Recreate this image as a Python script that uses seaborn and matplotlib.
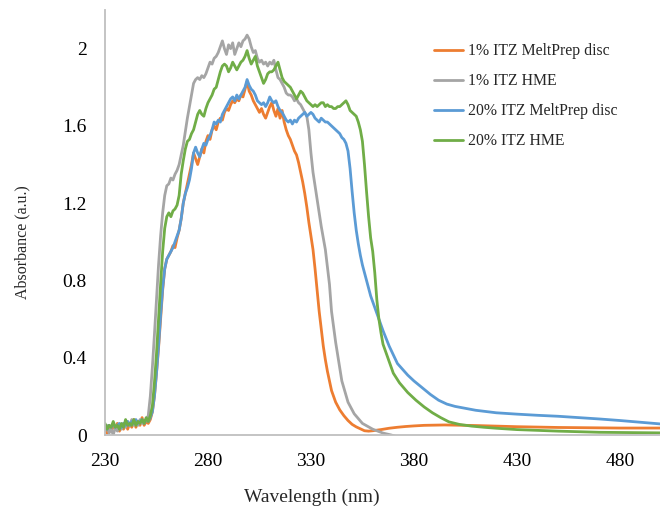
import matplotlib
matplotlib.use("Agg")
import matplotlib.pyplot as plt
import seaborn as sns
import pandas as pd
from matplotlib.ticker import FixedLocator, FuncFormatter
from matplotlib.lines import Line2D

# ---------------- data ----------------
series_names = ["1% ITZ MeltPrep disc", "1% ITZ HME", "20% ITZ MeltPrep disc", "20% ITZ HME"]
series_colors = ["#ED7D31", "#A5A5A5", "#5B9BD5", "#70AD47"]

orange_x = [230, 231, 232, 233, 234, 235, 236, 237, 238, 239, 240, 241, 242, 243, 244, 245, 246, 247, 248, 249,
            250, 251, 252, 253, 254, 255, 256, 257, 258, 259, 260, 261, 262, 263, 264, 265, 266, 267, 268, 269,
            270, 271, 272, 273, 274, 275, 276, 277, 278, 279, 280, 281, 282, 283, 284, 285, 286, 287, 288, 289,
            290, 291, 292, 293, 294, 295, 296, 297, 298, 299, 300, 301, 302, 303, 304, 305, 306, 307, 308, 309,
            310, 311, 312, 313, 314, 315, 316, 317, 318, 319, 320, 321, 322, 323, 324, 325, 326, 327, 328, 329,
            330, 331, 332, 333, 334, 335, 336, 337, 338, 339, 340, 342, 344, 346, 348, 350, 352, 354, 356, 358,
            360, 364, 368, 372, 376, 380, 385, 390, 395, 400, 410, 420, 430, 440, 450, 460, 470, 480, 490, 500]
orange_y = [0.04, 0.01, 0.04, 0.02, 0.05, 0.03, 0.06, 0.02, 0.05, 0.03, 0.07, 0.03, 0.06, 0.04, 0.08, 0.04, 0.07, 0.05, 0.09, 0.05,
            0.07, 0.06, 0.08, 0.12, 0.20, 0.32, 0.45, 0.60, 0.75, 0.86, 0.91, 0.93, 0.95, 0.98, 0.97, 1.02, 1.06, 1.12, 1.20, 1.25,
            1.30, 1.35, 1.40, 1.46, 1.43, 1.40, 1.44, 1.48, 1.46, 1.52, 1.55, 1.53, 1.58, 1.60, 1.58, 1.62, 1.64, 1.63, 1.67, 1.69,
            1.68, 1.71, 1.73, 1.72, 1.74, 1.73, 1.76, 1.75, 1.79, 1.83, 1.78, 1.76, 1.73, 1.71, 1.69, 1.67, 1.69, 1.66, 1.64, 1.67,
            1.70, 1.72, 1.68, 1.65, 1.69, 1.64, 1.68, 1.62, 1.58, 1.55, 1.53, 1.50, 1.47, 1.45, 1.41, 1.36, 1.31, 1.25, 1.18, 1.10,
            1.03, 0.96, 0.86, 0.75, 0.64, 0.55, 0.46, 0.39, 0.33, 0.28, 0.23, 0.17, 0.13, 0.10, 0.075, 0.055, 0.042, 0.032, 0.022, 0.020,
            0.022, 0.028, 0.035, 0.040, 0.044, 0.047, 0.050, 0.051, 0.052, 0.051, 0.049, 0.046, 0.043, 0.041, 0.039, 0.038, 0.037, 0.036, 0.036, 0.036]

gray_x = [230, 231, 232, 233, 234, 235, 236, 237, 238, 239, 240, 241, 242, 243, 244, 245, 246, 247, 248, 249,
          250, 251, 252, 253, 254, 255, 256, 257, 258, 259, 260, 261, 262, 263, 264, 265, 266, 267, 268, 269,
          270, 271, 272, 273, 274, 275, 276, 277, 278, 279, 280, 281, 282, 283, 284, 285, 286, 287, 288, 289,
          290, 291, 292, 293, 294, 295, 296, 297, 298, 299, 300, 301, 302, 303, 304, 305, 306, 307, 308, 309,
          310, 311, 312, 313, 314, 315, 316, 317, 318, 319, 320, 321, 322, 323, 324, 325, 326, 327, 328, 329,
          330, 331, 333, 335, 337, 339, 340, 342, 345, 348, 351, 355, 360, 365, 369, 372]
gray_y = [0.02, 0.05, 0.01, 0.03, 0.00, 0.04, 0.02, 0.05, 0.03, 0.06, 0.04, 0.07, 0.05, 0.08, 0.05, 0.07, 0.05, 0.08, 0.06, 0.07,
          0.08, 0.10, 0.20, 0.35, 0.52, 0.70, 0.88, 1.03, 1.15, 1.24, 1.29, 1.30, 1.33, 1.32, 1.35, 1.37, 1.40, 1.45, 1.50, 1.57,
          1.64, 1.70, 1.76, 1.82, 1.84, 1.85, 1.84, 1.86, 1.85, 1.87, 1.90, 1.93, 1.92, 1.95, 1.96, 1.98, 2.01, 2.04, 2.00, 1.97,
          2.02, 2.00, 2.03, 1.97, 2.00, 2.03, 2.01, 2.04, 2.05, 2.07, 2.05, 2.01, 1.98, 1.99, 1.95, 1.93, 1.94, 1.92, 1.93, 1.91,
          1.93, 1.92, 1.94, 1.89, 1.85, 1.84, 1.82, 1.80, 1.77, 1.76, 1.76, 1.75, 1.73, 1.74, 1.72, 1.71, 1.69, 1.67, 1.65, 1.58,
          1.46, 1.36, 1.22, 1.08, 0.96, 0.78, 0.64, 0.48, 0.28, 0.17, 0.11, 0.06, 0.03, 0.01, 0.0, -0.01]

blue_x = [230, 231, 232, 233, 234, 235, 236, 237, 238, 239, 240, 241, 242, 243, 244, 245, 246, 247, 248, 249,
          250, 251, 252, 253, 254, 255, 256, 257, 258, 259, 260, 261, 262, 263, 264, 265, 266, 267, 268, 269,
          270, 271, 272, 273, 274, 275, 276, 277, 278, 279, 280, 281, 282, 283, 284, 285, 286, 287, 288, 289,
          290, 291, 292, 293, 294, 295, 296, 297, 298, 299, 300, 301, 302, 303, 304, 305, 306, 307, 308, 309,
          310, 311, 312, 313, 314, 315, 316, 317, 318, 319, 320, 321, 322, 323, 324, 325, 326, 327, 328, 329,
          330, 331, 332, 333, 334, 335, 336, 337, 338, 339, 340, 341, 342, 343, 344, 345, 346, 347, 348, 349,
          350, 351, 352, 353, 354, 355, 357, 359, 362, 365, 368, 372, 377, 380, 384, 388, 392, 396, 400, 405,
          410, 420, 430, 440, 450, 460, 470, 480, 490, 500]
blue_y = [0.05, 0.03, 0.05, 0.04, 0.06, 0.04, 0.05, 0.06, 0.04, 0.06, 0.05, 0.07, 0.05, 0.07, 0.06, 0.08, 0.06, 0.07, 0.08, 0.06,
          0.08, 0.07, 0.09, 0.12, 0.20, 0.32, 0.46, 0.62, 0.76, 0.86, 0.91, 0.93, 0.95, 0.97, 1.00, 1.03, 1.06, 1.12, 1.20, 1.25,
          1.28, 1.32, 1.38, 1.46, 1.49, 1.46, 1.44, 1.48, 1.51, 1.50, 1.53, 1.55, 1.58, 1.62, 1.61, 1.63, 1.62, 1.66, 1.68, 1.70,
          1.72, 1.74, 1.75, 1.73, 1.76, 1.74, 1.76, 1.78, 1.80, 1.84, 1.81, 1.79, 1.78, 1.76, 1.73, 1.72, 1.71, 1.72, 1.70, 1.72,
          1.75, 1.73, 1.72, 1.73, 1.70, 1.68, 1.67, 1.65, 1.63, 1.62, 1.63, 1.61, 1.63, 1.62, 1.64, 1.65, 1.66, 1.67, 1.65, 1.66,
          1.67, 1.66, 1.64, 1.63, 1.62, 1.64, 1.63, 1.62, 1.62, 1.61, 1.60, 1.59, 1.58, 1.57, 1.56, 1.54, 1.53, 1.51, 1.47, 1.38,
          1.26, 1.15, 1.06, 0.99, 0.93, 0.88, 0.80, 0.72, 0.63, 0.54, 0.46, 0.37, 0.31, 0.28, 0.245, 0.21, 0.18, 0.16, 0.148, 0.138,
          0.128, 0.115, 0.108, 0.102, 0.097, 0.090, 0.083, 0.075, 0.066, 0.057]

green_x = [230, 231, 232, 233, 234, 235, 236, 237, 238, 239, 240, 241, 242, 243, 244, 245, 246, 247, 248, 249,
           250, 251, 252, 253, 254, 255, 256, 257, 258, 259, 260, 261, 262, 263, 264, 265, 266, 267, 268, 269,
           270, 271, 272, 273, 274, 275, 276, 277, 278, 279, 280, 281, 282, 283, 284, 285, 286, 287, 288, 289,
           290, 291, 292, 293, 294, 295, 296, 297, 298, 299, 300, 301, 302, 303, 304, 305, 306, 307, 308, 309,
           310, 311, 312, 313, 314, 315, 316, 317, 318, 319, 320, 321, 322, 323, 324, 325, 326, 327, 328, 329,
           330, 331, 332, 333, 334, 335, 336, 337, 338, 339, 340, 341, 342, 343, 344, 345, 346, 347, 348, 349,
           350, 351, 352, 353, 354, 355, 356, 357, 358, 359, 360, 361, 362, 363, 364, 365, 367, 370, 373, 377,
           381, 385, 389, 393, 397, 402, 408, 414, 420, 430, 440, 450, 460, 470, 480, 490, 500]
green_y = [0.06, 0.03, 0.05, 0.04, 0.07, 0.04, 0.05, 0.03, 0.06, 0.04, 0.08, 0.05, 0.06, 0.05, 0.08, 0.05, 0.07, 0.06, 0.08, 0.06,
           0.09, 0.07, 0.10, 0.15, 0.27, 0.42, 0.60, 0.78, 0.95, 1.07, 1.13, 1.15, 1.13, 1.16, 1.17, 1.19, 1.24, 1.35, 1.42, 1.48,
           1.52, 1.53, 1.56, 1.58, 1.62, 1.66, 1.68, 1.66, 1.65, 1.69, 1.72, 1.74, 1.76, 1.79, 1.80, 1.84, 1.88, 1.91, 1.92, 1.91,
           1.88, 1.90, 1.93, 1.91, 1.89, 1.91, 1.93, 1.94, 1.96, 1.99, 1.95, 1.92, 1.94, 1.96, 1.91, 1.88, 1.85, 1.82, 1.84, 1.87,
           1.88, 1.88, 1.89, 1.91, 1.93, 1.89, 1.85, 1.83, 1.82, 1.81, 1.80, 1.78, 1.76, 1.74, 1.76, 1.78, 1.77, 1.75, 1.73, 1.72,
           1.71, 1.70, 1.71, 1.70, 1.71, 1.72, 1.72, 1.70, 1.71, 1.70, 1.70, 1.69, 1.69, 1.70, 1.70, 1.71, 1.72, 1.73, 1.71, 1.68,
           1.67, 1.66, 1.65, 1.62, 1.58, 1.52, 1.40, 1.26, 1.13, 1.02, 0.95, 0.84, 0.70, 0.60, 0.53, 0.47, 0.41, 0.32, 0.27, 0.22,
           0.18, 0.145, 0.115, 0.09, 0.068, 0.055, 0.046, 0.040, 0.035, 0.028, 0.024, 0.020, 0.017, 0.014, 0.013, 0.012, 0.011]

x_ticks = [230, 280, 330, 380, 430, 480]
y_ticks = [0, 0.4, 0.8, 1.2, 1.6, 2]
x_label = "Wavelength (nm)"
y_label = "Absorbance (a.u.)"

# ---------------- build long table ----------------
frames = []
for name, xs, ys in zip(series_names,
                        [orange_x, gray_x, blue_x, green_x],
                        [orange_y, gray_y, blue_y, green_y]):
    frames.append(pd.DataFrame({"Wavelength": xs, "Absorbance": ys, "Sample": name}))
df = pd.concat(frames, ignore_index=True)

sns.set_theme(style="white")
plt.rcParams["font.family"] = ["Liberation Serif", "DejaVu Serif"]

fig = plt.figure(figsize=(6.6, 5.09), dpi=100)
ax = fig.add_axes([105 / 660, 1 - 435 / 509, 1 - 105 / 660, (435 - 10) / 509])

sns.lineplot(data=df, x="Wavelength", y="Absorbance", hue="Sample",
             hue_order=series_names, palette=series_colors,
             estimator=None, sort=False, linewidth=2.0, ax=ax, legend=False)

ax.set_xlim(230, 499.5)
ax.set_ylim(0, 2.2)
ax.xaxis.set_major_locator(FixedLocator(x_ticks))
ax.yaxis.set_major_locator(FixedLocator(y_ticks))
ax.yaxis.set_major_formatter(FuncFormatter(lambda v, p: ("%g" % v)))
ax.tick_params(axis="both", length=0, labelsize=14, colors="#000000")
ax.tick_params(axis="x", pad=13)
ax.tick_params(axis="y", pad=13)

for s in ["top", "right"]:
    ax.spines[s].set_visible(False)
for s in ["left", "bottom"]:
    ax.spines[s].set_color("#BFBFBF")
    ax.spines[s].set_linewidth(1.3)
ax.grid(False)

ax.set_xlabel(x_label, fontsize=14)
ax.set_ylabel(y_label, fontsize=11.5)
ax.xaxis.set_label_coords((312 - 105) / 555, (435 - 497) / 425)
ax.yaxis.set_label_coords((22 - 105) / 555, (435 - 242) / 425)
ax.xaxis.label.set_va("center")
ax.yaxis.label.set_va("center")

handles = [Line2D([0], [0], color=c, lw=2.0) for c in series_colors]
fig.legend(handles, series_names, loc="upper left",
           bbox_to_anchor=(434 / 660, 1 - 43 / 509), frameon=False,
           fontsize=11.3, handlelength=1.85, handletextpad=0.3,
           labelspacing=0.9, borderpad=0, borderaxespad=0)

fig.savefig("out.png", dpi=100)
